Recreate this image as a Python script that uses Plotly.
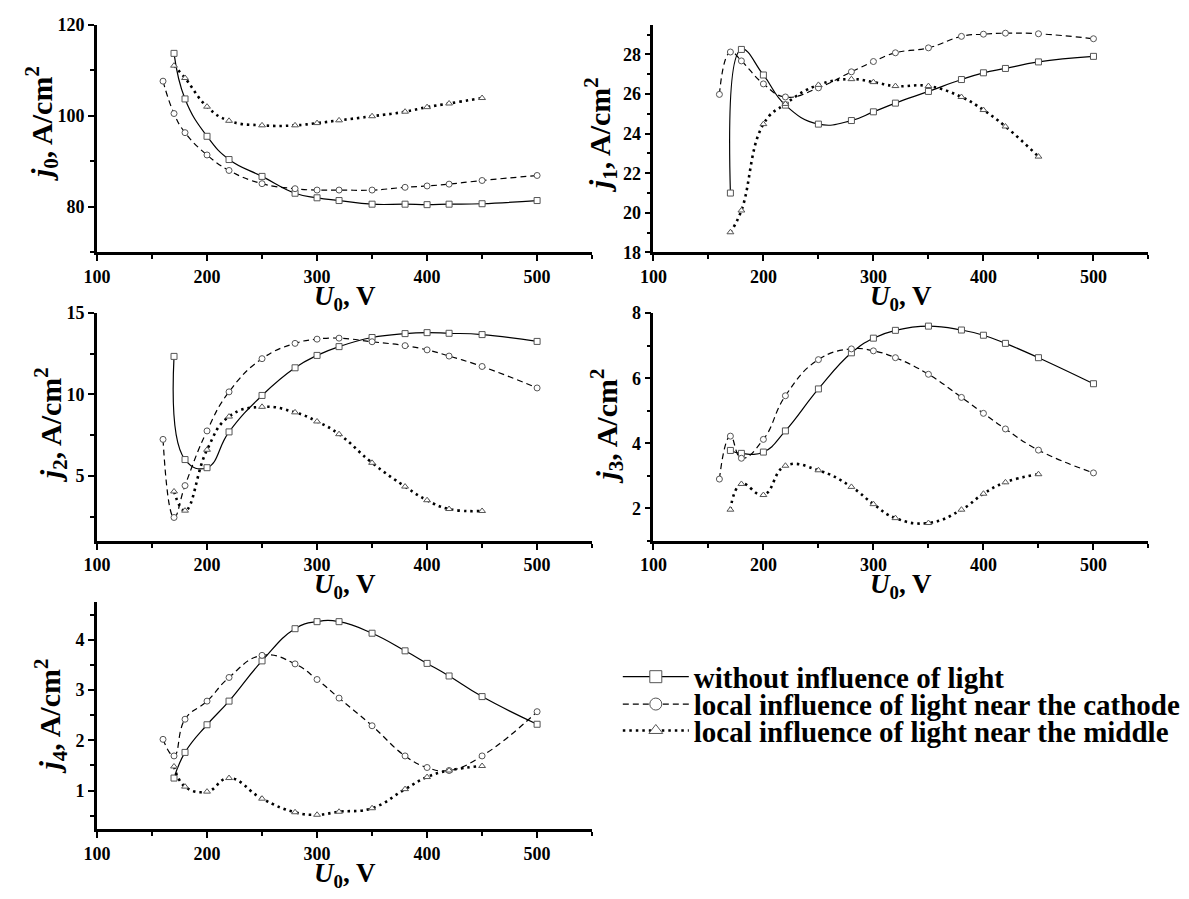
import plotly.graph_objects as go

# Discharge voltage U0 (V) for each measurement series
U_none = [170, 180, 200, 220, 250, 280, 300, 320, 350, 380, 400, 420, 450, 500]
U_cathode = [160, 170, 180, 200, 220, 250, 280, 300, 320, 350, 380, 400, 420, 450, 500]
U_middle = [170, 180, 200, 220, 250, 280, 300, 320, 350, 380, 400, 420, 450]

# j0 .. j4 current densities (A/cm^2)
j0_none = [113.7, 103.7, 95.5, 90.4, 86.7, 83.0, 82.0, 81.4, 80.6, 80.6, 80.5, 80.6, 80.7, 81.4]
j0_cathode = [107.6, 100.5, 96.3, 91.4, 88.0, 85.1, 84.0, 83.7, 83.7, 83.7, 84.3, 84.6, 85.0, 85.8, 86.9]
j0_middle = [111.0, 108.3, 102.0, 98.9, 97.9, 97.9, 98.4, 99.0, 99.9, 100.9, 101.9, 102.7, 103.9]

j1_none = [21.0, 28.25, 26.96, 25.44, 24.48, 24.66, 25.1, 25.54, 26.13, 26.73, 27.07, 27.29, 27.62, 27.9]
j1_cathode = [25.98, 28.12, 27.67, 26.51, 25.85, 26.31, 27.12, 27.64, 28.08, 28.33, 28.91, 29.02, 29.07, 29.04, 28.79]
j1_middle = [19.02, 20.12, 24.48, 25.5, 26.46, 26.75, 26.6, 26.4, 26.4, 25.85, 25.19, 24.36, 22.84]

j2_none = [12.34, 6.0, 5.5, 7.7, 9.94, 11.64, 12.4, 12.94, 13.5, 13.74, 13.8, 13.76, 13.68, 13.26]
j2_cathode = [7.24, 2.44, 4.4, 7.76, 10.16, 12.2, 13.14, 13.4, 13.46, 13.24, 13.0, 12.74, 12.36, 11.72, 10.4]
j2_middle = [4.04, 2.86, 6.6, 8.64, 9.24, 8.9, 8.34, 7.56, 5.8, 4.34, 3.5, 2.96, 2.84]

j3_none = [3.78, 3.69, 3.73, 4.38, 5.67, 6.78, 7.23, 7.47, 7.6, 7.48, 7.32, 7.07, 6.63, 5.83]
j3_cathode = [2.9, 4.22, 3.54, 4.12, 5.46, 6.57, 6.9, 6.84, 6.63, 6.12, 5.41, 4.92, 4.44, 3.79, 3.09]
j3_middle = [1.96, 2.75, 2.41, 3.31, 3.17, 2.66, 2.13, 1.7, 1.55, 1.96, 2.45, 2.8, 3.05]

j4_none = [1.25, 1.76, 2.31, 2.78, 3.58, 4.22, 4.36, 4.36, 4.13, 3.78, 3.53, 3.28, 2.87, 2.32]
j4_cathode = [2.02, 1.69, 2.42, 2.78, 3.25, 3.69, 3.52, 3.21, 2.84, 2.29, 1.69, 1.46, 1.40, 1.69, 2.57]
j4_middle = [1.48, 1.08, 0.98, 1.25, 0.84, 0.57, 0.52, 0.58, 0.65, 1.03, 1.27, 1.40, 1.49]

series_names = [
    "without influence of light",
    "local influence of light near the cathode",
    "local influence of light near the middle",
]

FONT = "Liberation Serif"
W, H = 1189, 899

# panel layout in pixels: (left, right, top, bottom)
panels = [
    dict(box=(84, 585, 15, 248), yr=[70, 120], dt=20, t0=80, mdt=10, m0=70,
         data=(j0_none, j0_cathode, j0_middle), idx="0", tx=28, ty=116),
    dict(box=(647, 1148, 15, 248), yr=[18, 29.5], dt=2, t0=18, mdt=1, m0=18,
         data=(j1_none, j1_cathode, j1_middle), idx="1", tx=593, ty=128),
    dict(box=(84, 585, 310, 543), yr=[1, 15], dt=5, t0=5, mdt=2.5, m0=0,
         data=(j2_none, j2_cathode, j2_middle), idx="2", tx=37, ty=424),
    dict(box=(647, 1148, 310, 543), yr=[1, 8], dt=2, t0=2, mdt=1, m0=1,
         data=(j3_none, j3_cathode, j3_middle), idx="3", tx=600, ty=425),
    dict(box=(84, 585, 605, 838), yr=[0.23, 4.76], dt=1, t0=1, mdt=0.5, m0=0,
         data=(j4_none, j4_cathode, j4_middle), idx="4", tx=37, ty=722),
]

styles = [
    dict(symbol="square", dash="solid", width=1.2),
    dict(symbol="circle", dash="6px,4px", width=1.2),
    dict(symbol="triangle-up", dash="2.5px,4px", width=2.6),
]
xs = [U_none, U_cathode, U_middle]

fig = go.Figure()
layout = dict(
    width=W, height=H, margin=dict(l=0, r=0, t=0, b=0),
    paper_bgcolor="white", plot_bgcolor="white", showlegend=True,
)
annotations = []

for k, p in enumerate(panels):
    n = "" if k == 0 else str(k + 1)
    l, r, t, b = p["box"]
    layout["xaxis" + n] = dict(
        domain=[l / W, r / W], anchor="y" + n, range=[100, 550],
        dtick=100, tick0=100, showgrid=False, zeroline=False,
        showline=True, linewidth=2.6, linecolor="black",
        ticks="outside", ticklen=6, tickwidth=2, tickcolor="black",
        minor=dict(dtick=50, tick0=100, ticks="outside", ticklen=4, tickwidth=1.5, tickcolor="black"),
        tickfont=dict(family=FONT, size=18, color="black", weight=700),
    )
    layout["yaxis" + n] = dict(
        domain=[1 - b / H, 1 - t / H], anchor="x" + n, range=p["yr"],
        dtick=p["dt"], tick0=p["t0"], showgrid=False, zeroline=False,
        showline=True, linewidth=2.6, linecolor="black",
        ticks="outside", ticklen=6, tickwidth=2, tickcolor="black",
        minor=dict(dtick=p["mdt"], tick0=p["m0"], ticks="outside", ticklen=4, tickwidth=1.5, tickcolor="black"),
        tickfont=dict(family=FONT, size=18, color="black", weight=700),
    )
    for s, st in enumerate(styles):
        fig.add_trace(go.Scatter(
            x=xs[s], y=p["data"][s], xaxis="x" + n, yaxis="y" + n,
            mode="lines+markers", showlegend=False,
            line=dict(color="black", width=st["width"], dash=st["dash"], shape="spline", smoothing=1.3),
            marker=dict(symbol=st["symbol"], size=6, color="white", line=dict(color="#555", width=1)),
        ))
    # axis titles
    annotations.append(dict(
        text="<b><i>j</i><sub>%s</sub>, A/cm<sup>2</sup></b>" % p["idx"],
        xref="paper", yref="paper", x=p["tx"] / W, y=1 - p["ty"] / H,
        xanchor="center", yanchor="middle", textangle=-90, showarrow=False,
        font=dict(family=FONT, size=30, color="black"),
    ))
    annotations.append(dict(
        text="<b><i>U</i><sub>0</sub>, V</b>",
        xref="paper", yref="paper", x=(l + r) / 2 / W, y=1 - (b + 27) / H,
        xanchor="center", yanchor="top", showarrow=False,
        font=dict(family=FONT, size=27, color="black"),
    ))

# legend entries, one legend box per row
rows_y = [682, 710, 737]
for s, st in enumerate(styles):
    lg = "legend" if s == 0 else "legend%d" % (s + 1)
    fig.add_trace(go.Scatter(
        x=[None], y=[None], mode="lines+markers", name=series_names[s],
        legend=lg, showlegend=True,
        line=dict(color="black", width=st["width"], dash=st["dash"]),
        marker=dict(symbol=st["symbol"], size=12, color="white", line=dict(color="#555", width=1)),
    ))
    layout[lg] = dict(
        x=611 / W, y=1 - rows_y[s] / H, xanchor="left", yanchor="middle",
        bgcolor="rgba(0,0,0,0)", borderwidth=0, itemwidth=66,
        font=dict(family=FONT, size=29, color="black", weight=700),
    )

layout["annotations"] = annotations
fig.update_layout(**layout)
fig.write_html("out.html")
